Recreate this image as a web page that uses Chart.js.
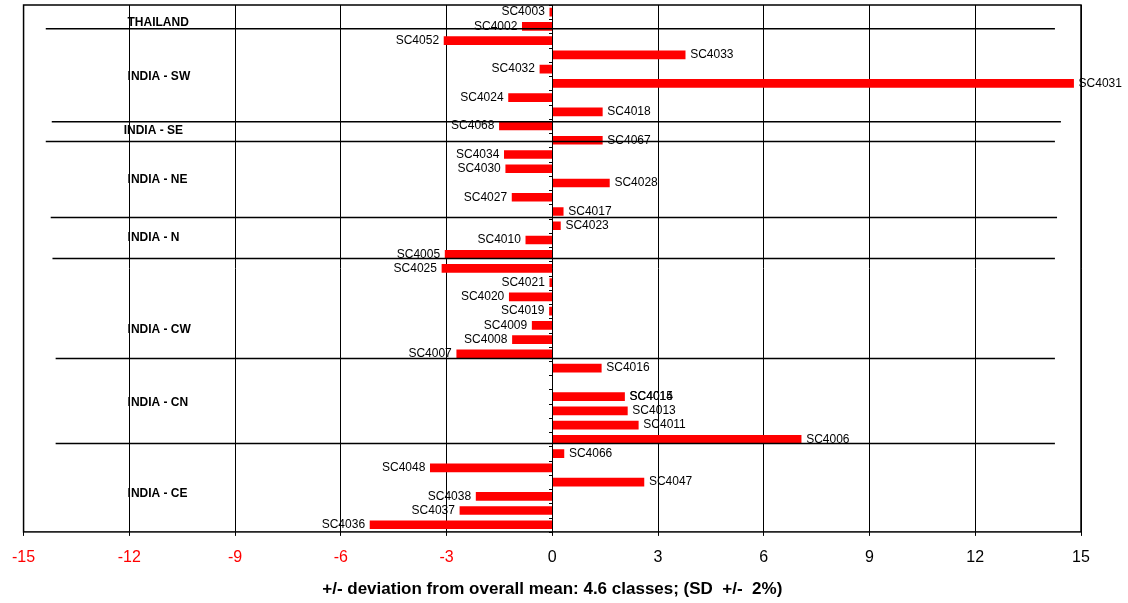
<!DOCTYPE html>
<html>
<head>
<meta charset="utf-8">
<script src="https://cdn.jsdelivr.net/npm/chart.js@4.4.1/dist/chart.umd.min.js"></script>
<style>
  html, body { margin: 0; padding: 0; background: #fff; }
  #wrap { width: 1128px; height: 603px; }
</style>
</head>
<body>
<div id="wrap"><canvas id="devChart" width="1128" height="603"></canvas></div>
<script>
// Data
const sampleCodes = ["SC4003", "SC4002", "SC4052", "SC4033", "SC4032", "SC4031", "SC4024", "SC4018",
  "SC4068", "SC4067", "SC4034", "SC4030", "SC4028", "SC4027", "SC4017", "SC4023", "SC4010", "SC4005",
  "SC4025", "SC4021", "SC4020", "SC4019", "SC4009", "SC4008", "SC4007", "SC4016", "", "SC4015",
  "SC4013", "SC4011", "SC4006", "SC4066", "SC4048", "SC4047", "SC4038", "SC4037", "SC4036"];

const deviation = [-0.07, -0.85, -3.07, 3.77, -0.35, 14.79, -1.24, 1.42,
  -1.5, 1.42, -1.36, -1.32, 1.62, -1.14, 0.31, 0.23, -0.75, -3.04,
  -3.13, -0.07, -1.22, -0.08, -0.57, -1.13, -2.71, 1.39, null, 2.05,
  2.13, 2.44, 7.06, 0.33, -3.46, 2.6, -2.16, -2.62, -5.17];

// second label printed on top of SC4015 in the original
const overlapLabels = { "SC4015": "SC4014" };

const regionNames = ["THAILAND", "INDIA - SW", "INDIA - SE", "INDIA - NE", "INDIA - N", "INDIA - CW", "INDIA - CN", "INDIA - CE"];

const xTicks = [-15, -12, -9, -6, -3, 0, 3, 6, 9, 12, 15];

// hand placed annotations (category units / x units)
const regionLabelPos = [[-12.05, 0.74], [-12.05, 4.53], [-12.16, 8.32], [-12.05, 11.76], [-12.05, 15.83], [-12.05, 22.29], [-12.05, 27.41], [-12.05, 33.8]];
const separators = [[1.16, -14.37, 14.26], [7.69, -14.2, 14.43], [9.09, -14.37, 14.26], [14.43, -14.23, 14.32],
  [17.3, -14.18, 14.26], [24.32, -14.09, 14.26], [30.29, -14.09, 14.26]];

const FONT = "'Liberation Sans', Arial, sans-serif";

// Annotations plugin
const annotate = {
  id: "annotate",
  afterDatasetsDraw(chart) {
    const ctx = chart.ctx;
    const xs = chart.scales.x;
    const ys = chart.scales.y;
    const area = chart.chartArea;
    const x0 = xs.getPixelForValue(0);
    ctx.save();

    // zero axis and its ticks
    ctx.strokeStyle = "#000";
    ctx.lineWidth = 1;
    ctx.beginPath();
    ctx.moveTo(Math.round(x0) + 0.5, area.top);
    ctx.lineTo(Math.round(x0) + 0.5, area.bottom);
    for (let i = 0; i <= sampleCodes.length; i++) {
      const y = Math.round(ys.getPixelForValue(i - 0.5)) + 0.5;
      ctx.moveTo(Math.round(x0) - 3, y);
      ctx.lineTo(Math.round(x0) + 1, y);
    }
    ctx.stroke();

    // region separators
    ctx.lineWidth = 1.5;
    separators.forEach(([row, a, b]) => {
      const y = ys.getPixelForValue(row);
      ctx.beginPath();
      ctx.moveTo(xs.getPixelForValue(a), y);
      ctx.lineTo(xs.getPixelForValue(b), y);
      ctx.stroke();
    });

    // bar labels
    ctx.font = "12px " + FONT;
    ctx.fillStyle = "#000";
    ctx.textBaseline = "middle";
    const meta = chart.getDatasetMeta(0);
    meta.data.forEach((bar, i) => {
      const v = deviation[i];
      if (v === null || !sampleCodes[i]) return;
      const texts = [sampleCodes[i]];
      if (overlapLabels[sampleCodes[i]]) texts.push(overlapLabels[sampleCodes[i]]);
      texts.forEach((t) => {
        if (v < 0) {
          ctx.textAlign = "right";
          ctx.fillText(t, bar.x - 5, bar.y);
        } else {
          ctx.textAlign = "left";
          ctx.fillText(t, bar.x + 5, bar.y);
        }
      });
    });

    // region names
    ctx.font = "bold 12px " + FONT;
    ctx.textAlign = "left";
    regionNames.forEach((name, i) => {
      const [xv, row] = regionLabelPos[i];
      ctx.fillText(name, xs.getPixelForValue(xv), ys.getPixelForValue(row));
    });

    // frame
    ctx.lineWidth = 1.5;
    ctx.strokeRect(area.left, area.top, area.right - area.left, area.bottom - area.top);
    ctx.restore();
  },
};

const devData = {
  labels: sampleCodes,
  datasets: [
    {
      data: deviation,
      backgroundColor: "#ff0000",
      barThickness: 8,
    },
  ],
};

const devConfig = {
  type: "bar",
  data: devData,
  options: {
    indexAxis: "y",
    responsive: false,
    animation: false,
    layout: {
      padding: { left: 23, right: 47, top: 5, bottom: 3.5 },
    },
    plugins: {
      legend: { display: false },
      tooltip: { enabled: false },
    },
    scales: {
      x: {
        min: -15,
        max: 15,
        afterBuildTicks: (scale) => {
          scale.ticks = xTicks.map((v) => ({ value: v }));
        },
        grid: {
          color: "#000",
          lineWidth: 1,
          tickLength: 4,
        },
        border: { display: false },
        ticks: {
          padding: 12,
          font: { size: 16, family: FONT },
          color: (c) => (c.tick && c.tick.value < 0 ? "#ff0000" : "#000"),
        },
        title: {
          display: true,
          text: "+/- deviation from overall mean: 4.6 classes; (SD  +/-  2%)",
          color: "#000",
          font: { size: 17, weight: "bold", family: FONT },
          padding: { top: 0, bottom: 0 },
        },
      },
      y: {
        display: false,
      },
    },
  },
  plugins: [annotate],
};

const devChart = new Chart(document.getElementById("devChart"), devConfig);
</script>
</body>
</html>
